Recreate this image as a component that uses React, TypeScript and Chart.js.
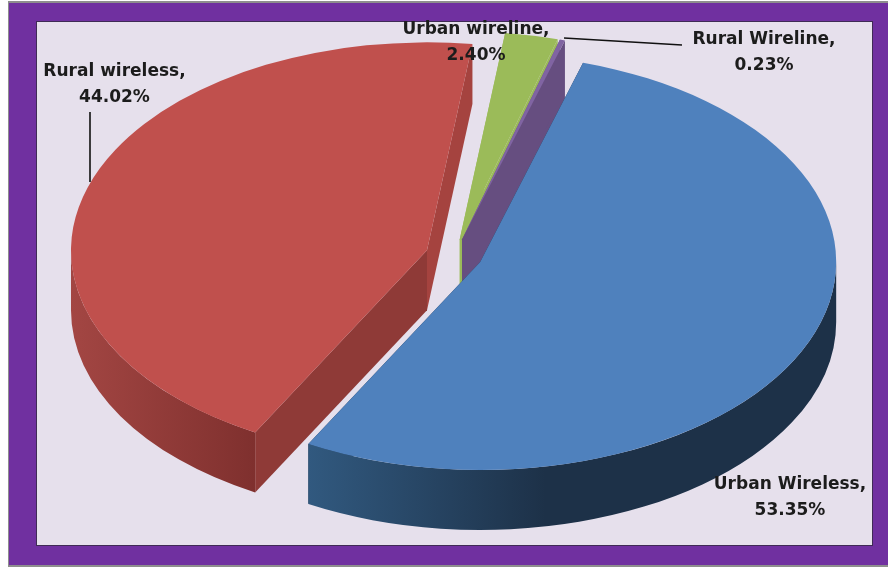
import React, { useEffect, useRef } from "react";
import { Chart, registerables } from "chart.js";

Chart.register(...registerables);

const categories = ["Urban Wireless", "Rural wireless", "Urban wireline", "Rural Wireline"];
const shares = [53.35, 44.02, 2.4, 0.23];
const tickLabels = ["53.35%", "44.02%", "2.40%", "0.23%"];
const topColors = ["#4F81BD", "#C0504D", "#9BBB59", "#8064A2"];

const W = 888;
const H = 572;
const RADIUS = 208;
const STRETCH = 356 / 208;
const DEPTH = 60;
const EXPLODE = 16.6;
const FONT = 'bold 17px "DejaVu Sans"';

// start face, end face, and outer wall gradient per slice
const faceColors = [
  ["#1D3148", "#1D3148"],
  ["#8F3A37", "#A5433F"],
  ["#9BBB59", "#9BBB59"],
  ["#664E80", "#664E80"],
];
const wallStops = [
  [[0, "#31597F"], [0.45, "#1D3148"], [1, "#1D3148"]],
  [[0, "#A34643"], [1, "#7F302E"]],
  [[0, "#7A9446"], [1, "#7A9446"]],
  [[0, "#664E80"], [1, "#664E80"]],
];
const drawOrder = [2, 3, 1, 0];

const labelLayout = [
  { x: 790, y: 485 },
  { x: 114.5, y: 72 },
  { x: 476, y: 30 },
  { x: 764, y: 40 },
];
const leaders = [
  [[90, 112], [90, 182]],
  [[564, 38], [682, 45]],
];

function drawSlice(ctx: CanvasRenderingContext2D, arc: any, i: number) {
  const mid = (arc.startAngle + arc.endAngle) / 2;
  const cx = arc.x + Math.cos(mid) * EXPLODE * STRETCH;
  const cy = arc.y + Math.sin(mid) * EXPLODE;
  const rx = arc.outerRadius * STRETCH;
  const ry = arc.outerRadius;
  const rim = (a: number) => [cx + Math.cos(a) * rx, cy + Math.sin(a) * ry];

  [arc.endAngle, arc.startAngle].forEach((a: number, k: number) => {
    const [px, py] = rim(a);
    ctx.beginPath();
    ctx.moveTo(cx, cy);
    ctx.lineTo(px, py);
    ctx.lineTo(px, py + DEPTH);
    ctx.lineTo(cx, cy + DEPTH);
    ctx.closePath();
    ctx.fillStyle = faceColors[i][1 - k];
    ctx.fill();
  });

  for (let k = -1; k <= 1; k++) {
    const lo = Math.max(arc.startAngle, 2 * Math.PI * k);
    const hi = Math.min(arc.endAngle, 2 * Math.PI * k + Math.PI);
    if (hi <= lo) continue;
    const x0 = Math.min(rim(lo)[0], rim(hi)[0]);
    const x1 = Math.max(rim(lo)[0], rim(hi)[0]);
    const g = ctx.createLinearGradient(x0, 0, x1, 0);
    wallStops[i].forEach(([p, c]) => g.addColorStop(p as number, c as string));
    ctx.beginPath();
    ctx.ellipse(cx, cy, rx, ry, 0, lo, hi, false);
    ctx.ellipse(cx, cy + DEPTH, rx, ry, 0, hi, lo, true);
    ctx.closePath();
    ctx.fillStyle = g;
    ctx.fill();
  }

  ctx.beginPath();
  ctx.moveTo(cx, cy);
  ctx.ellipse(cx, cy, rx, ry, 0, arc.startAngle, arc.endAngle, false);
  ctx.closePath();
  ctx.fillStyle = arc.options.backgroundColor;
  ctx.fill();
}

const framePlugin = {
  id: "frame",
  beforeDraw(chart: any) {
    const ctx: CanvasRenderingContext2D = chart.ctx;
    ctx.save();
    ctx.fillStyle = "#FFFFFF";
    ctx.fillRect(0, 0, W, H);
    ctx.fillStyle = "#8E8E8E";
    ctx.fillRect(8, 1, W - 8, 566);
    ctx.fillStyle = "#7030A0";
    ctx.fillRect(9, 3, W - 9, 562);
    ctx.fillStyle = "#3F2A55";
    ctx.fillRect(36, 21, 837, 525);
    ctx.fillStyle = "#E6E0EC";
    ctx.fillRect(37, 22, 835, 523);
    ctx.restore();
  },
};

const piePlugin = {
  id: "pie3d",
  beforeDatasetDraw(chart: any) {
    const ctx: CanvasRenderingContext2D = chart.ctx;
    const arcs = chart.getDatasetMeta(0).data;
    ctx.save();
    drawOrder.forEach((i) => drawSlice(ctx, arcs[i], i));
    ctx.restore();
    return false;
  },
  afterDatasetsDraw(chart: any) {
    const ctx: CanvasRenderingContext2D = chart.ctx;
    ctx.save();
    ctx.strokeStyle = "#111111";
    ctx.lineWidth = 1.6;
    leaders.forEach(([a, b]) => {
      ctx.beginPath();
      ctx.moveTo(a[0], a[1]);
      ctx.lineTo(b[0], b[1]);
      ctx.stroke();
    });
    ctx.fillStyle = "#1C1C1C";
    ctx.font = FONT;
    ctx.textAlign = "center";
    ctx.textBaseline = "middle";
    categories.forEach((c, i) => {
      const p = labelLayout[i];
      ctx.fillText(c + ",", p.x, p.y);
      ctx.fillText(tickLabels[i], p.x, p.y + 26);
    });
    ctx.restore();
  },
};

export default function App() {
  const ref = useRef<HTMLCanvasElement>(null);
  useEffect(() => {
    document.body.style.margin = "0";
    const chart = new Chart(ref.current!, {
      type: "pie",
      data: {
        labels: categories,
        datasets: [{ data: shares, backgroundColor: topColors, borderWidth: 0 }],
      },
      options: {
        responsive: false,
        animation: false,
        rotation: 16.8,
        radius: RADIUS,
        layout: { padding: { left: 20, bottom: 61 } },
        plugins: { legend: { display: false }, tooltip: { enabled: false }, title: { display: false } },
      } as any,
      plugins: [framePlugin, piePlugin] as any,
    });
    return () => chart.destroy();
  }, []);
  return <canvas ref={ref} width={W} height={H} style={{ display: "block" }} />;
}
